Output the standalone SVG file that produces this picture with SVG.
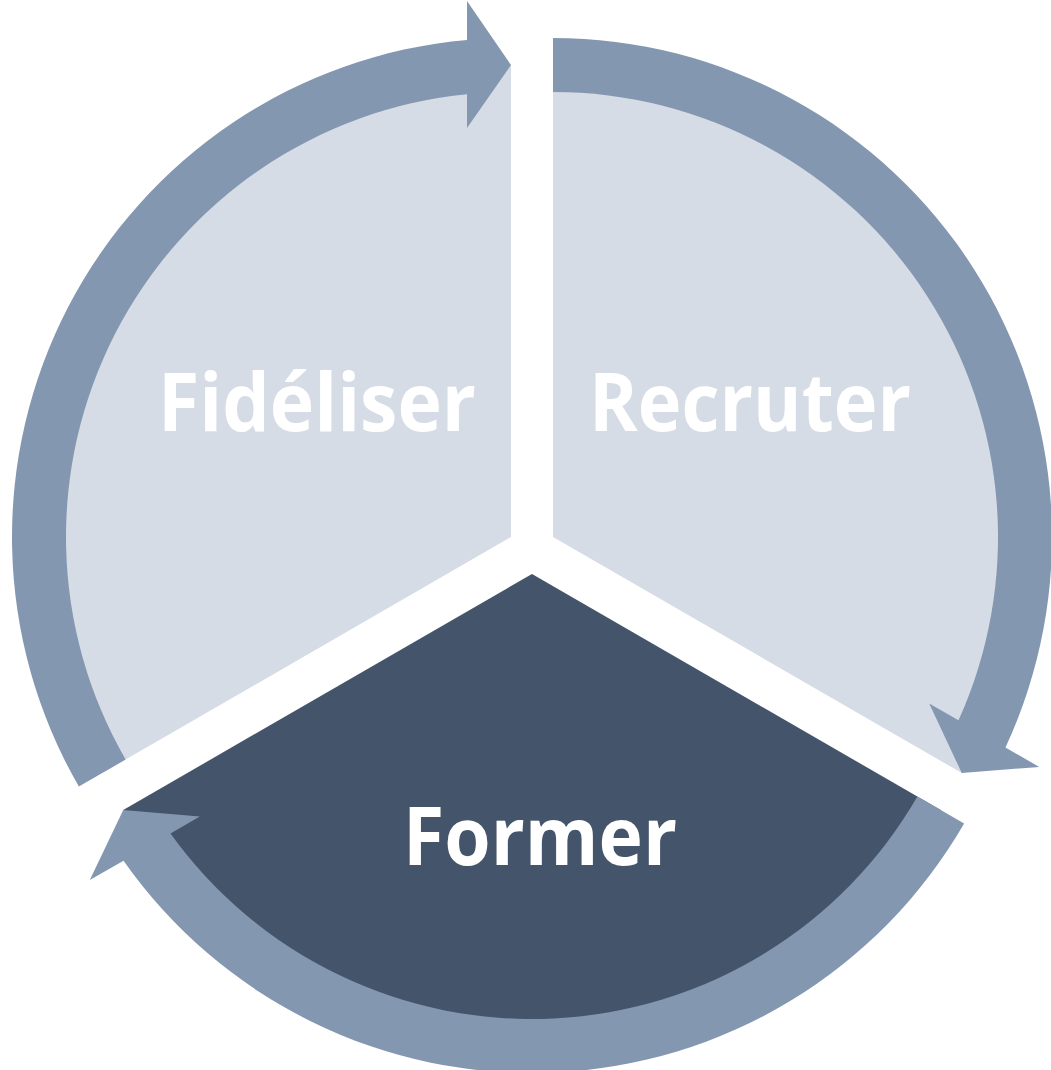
<svg xmlns="http://www.w3.org/2000/svg" width="1051" height="1070" viewBox="0 0 1051 1070">
  <style>
    .light { fill: #D6DCE5; }
    .dark { fill: #44546A; }
    .arrow { fill: #8497B0; }
    .lbl { font-family: "Open Sans", "Liberation Sans", sans-serif; font-weight: bold; font-size: 80px; fill: #FFFFFF; text-anchor: middle; }
  </style>
  <defs>
    <path id="arc-arrow" d="M -432.14,249.5 A 499 499 0 0 1 -44,-497.06 L -44,-536 L 0,-472 L -44,-409 L -44,-442.82 A 445 445 0 0 0 -385.38,222.5 Z"/>
  </defs>
  <rect width="1051" height="1070" fill="#FFFFFF"/>
  <g id="node-recruter">
    <path class="light" d="M553,537 L553,65 A472,472 0 0,1 961.76,773 Z"/>
  </g>
  <g id="node-fideliser">
    <path class="light" d="M511,537 L102.24,773 A472,472 0 0,1 511,65 Z"/>
  </g>
  <g id="node-former">
    <path class="dark" d="M532,574 L940.76,810 A472,472 0 0,1 123.24,810 Z"/>
  </g>
  <g id="connectors">
    <use href="#arc-arrow" class="arrow" transform="translate(511,537)"/>
    <use href="#arc-arrow" class="arrow" transform="translate(553,537) rotate(120)"/>
    <use href="#arc-arrow" class="arrow" transform="translate(532,574) rotate(240)"/>
  </g>
  <g id="labels">
    <text class="lbl" x="317" y="431" textLength="318" lengthAdjust="spacingAndGlyphs">Fidéliser</text>
    <text class="lbl" x="750" y="431" textLength="322" lengthAdjust="spacingAndGlyphs">Recruter</text>
    <text class="lbl" x="540" y="865" textLength="274" lengthAdjust="spacingAndGlyphs">Former</text>
  </g>
</svg>
